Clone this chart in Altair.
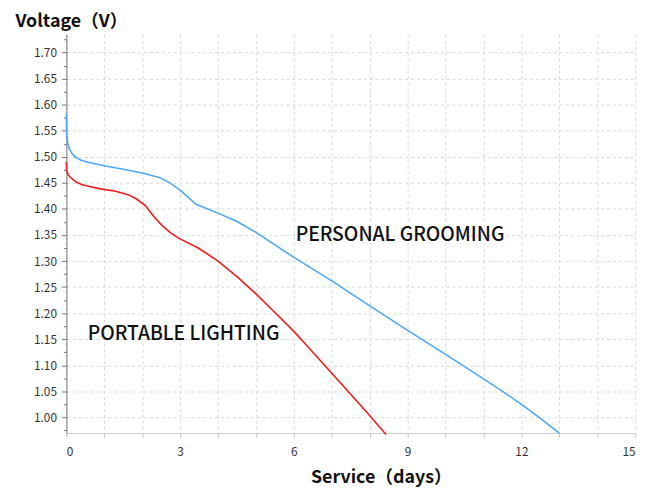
import altair as alt
import pandas as pd

# Personal grooming (blue)
pg_days = [0, 0.005, 0.03, 0.08, 0.15, 0.25, 0.4, 0.6, 1.0, 1.5, 2.0, 2.47, 2.75, 3.0, 3.2, 3.42,
           4.0, 4.5, 5.0, 6.0, 7.0, 8.0, 9.0, 10.0, 11.0, 11.6, 12.0, 12.5, 13.0]
pg_volt = [1.582, 1.545, 1.528, 1.515, 1.506, 1.499, 1.493, 1.489, 1.483, 1.476, 1.469, 1.460, 1.449,
           1.436, 1.423, 1.409, 1.392, 1.376, 1.355, 1.307, 1.262, 1.214, 1.167, 1.121, 1.074, 1.045,
           1.025, 0.998, 0.970]

# Portable lighting (red)
pl_days = [0, 0.005, 0.05, 0.13, 0.25, 0.4, 0.61, 0.87, 1.3, 1.65, 1.85, 2.09, 2.3, 2.5, 2.75, 2.96,
           3.48, 4.0, 4.5, 5.0, 5.56, 6.0, 6.35, 7.13, 7.91, 8.43]
pl_volt = [1.490, 1.474, 1.465, 1.459, 1.452, 1.447, 1.443, 1.439, 1.434, 1.427, 1.419, 1.406, 1.386,
           1.370, 1.354, 1.344, 1.325, 1.300, 1.270, 1.237, 1.197, 1.165, 1.137, 1.074, 1.011, 0.967]

series_names = ["PERSONAL GROOMING", "PORTABLE LIGHTING"]
series_colors = ["#4ea8f5", "#ee1c1c"]

y_major = [1.0, 1.05, 1.1, 1.15, 1.2, 1.25, 1.3, 1.35, 1.4, 1.45, 1.5, 1.55, 1.6, 1.65, 1.7]
y_minor = [0.975, 1.025, 1.075, 1.125, 1.175, 1.225, 1.275, 1.325, 1.375, 1.425, 1.475, 1.525,
           1.575, 1.625, 1.675, 1.725]
x_ticks = [0, 1, 2, 3, 4, 5, 6, 7, 8, 9, 10, 11, 12, 13, 14, 15]

label_text = ["PERSONAL GROOMING", "PORTABLE LIGHTING"]
label_x = [8.8, 3.09]
label_y = [1.349, 1.160]

rows = []
for d, v in zip(pg_days, pg_volt):
    rows.append({"days": d, "volt": v, "series": series_names[0]})
for d, v in zip(pl_days, pl_volt):
    rows.append({"days": d, "volt": v, "series": series_names[1]})
df = pd.DataFrame(rows)
labels = pd.DataFrame({"text": label_text, "days": label_x, "volt": label_y})

FONT = "Noto Sans CJK SC"
x_scale = alt.Scale(domain=[0, 15], nice=False, zero=False)
y_scale = alt.Scale(domain=[0.97, 1.735], nice=False, zero=False)

x_enc = alt.X(
    "days:Q",
    scale=x_scale,
    axis=alt.Axis(
        values=x_ticks,
        labelExpr="datum.value % 3 == 0 ? datum.label : ''",
        labelOverlap=False,
        title="Service（days）",
        titleFont=FONT, titleFontSize=18, titleFontWeight="bold", titleColor="#111",
        titleX=318, titleY=50, titleAlign="center", titleBaseline="alphabetic",
        labelFont=FONT, labelFontSize=12, labelColor="#333", labelPadding=10,
        tickSize=4, tickColor="#bbb", domainColor="#ccc",
        grid=True, gridDash=[3, 3], gridColor="#d8d8d8",
    ),
)
y_main = alt.Y(
    "volt:Q",
    scale=y_scale,
    axis=alt.Axis(
        values=y_major,
        format=".2f",
        labelOverlap=False,
        title="Voltage（V）",
        titleFont=FONT, titleFontSize=18, titleFontWeight="bold", titleColor="#111",
        titleAngle=0, titleAlign="left", titleBaseline="alphabetic",
        titleX=-52, titleY=-8,
        labelFont=FONT, labelFontSize=12, labelColor="#333", labelPadding=5,
        tickSize=5, tickColor="#777", domainColor="#777",
        grid=True, gridDash=[3, 3], gridColor="#d8d8d8",
    ),
)
y_minor_enc = alt.Y(
    "volt:Q",
    scale=y_scale,
    axis=alt.Axis(
        orient="left",
        values=y_minor,
        labels=False,
        title="",
        domain=False,
        grid=False,
        tickSize=3, tickColor="#777",
    ),
)

lines = alt.Chart(df).mark_line(strokeWidth=1.6).encode(
    x=x_enc,
    y=y_main,
    color=alt.Color("series:N", scale=alt.Scale(domain=series_names, range=series_colors), legend=None),
)

text = alt.Chart(labels).mark_text(font=FONT, fontSize=19.5, fontWeight=500, color="#111",
                                   align="center", baseline="middle").encode(
    x=x_enc, y=y_minor_enc, text="text:N"
)

chart = alt.layer(lines, text).resolve_axis(y="independent").properties(
    width=575, height=403,
    autosize=alt.AutoSizeParams(type="none"),
    padding={"left": 59, "top": 24, "right": 20, "bottom": 60},
).configure_view(stroke=None)

chart.save("out.html", embed_options={"renderer": "svg", "actions": False})
